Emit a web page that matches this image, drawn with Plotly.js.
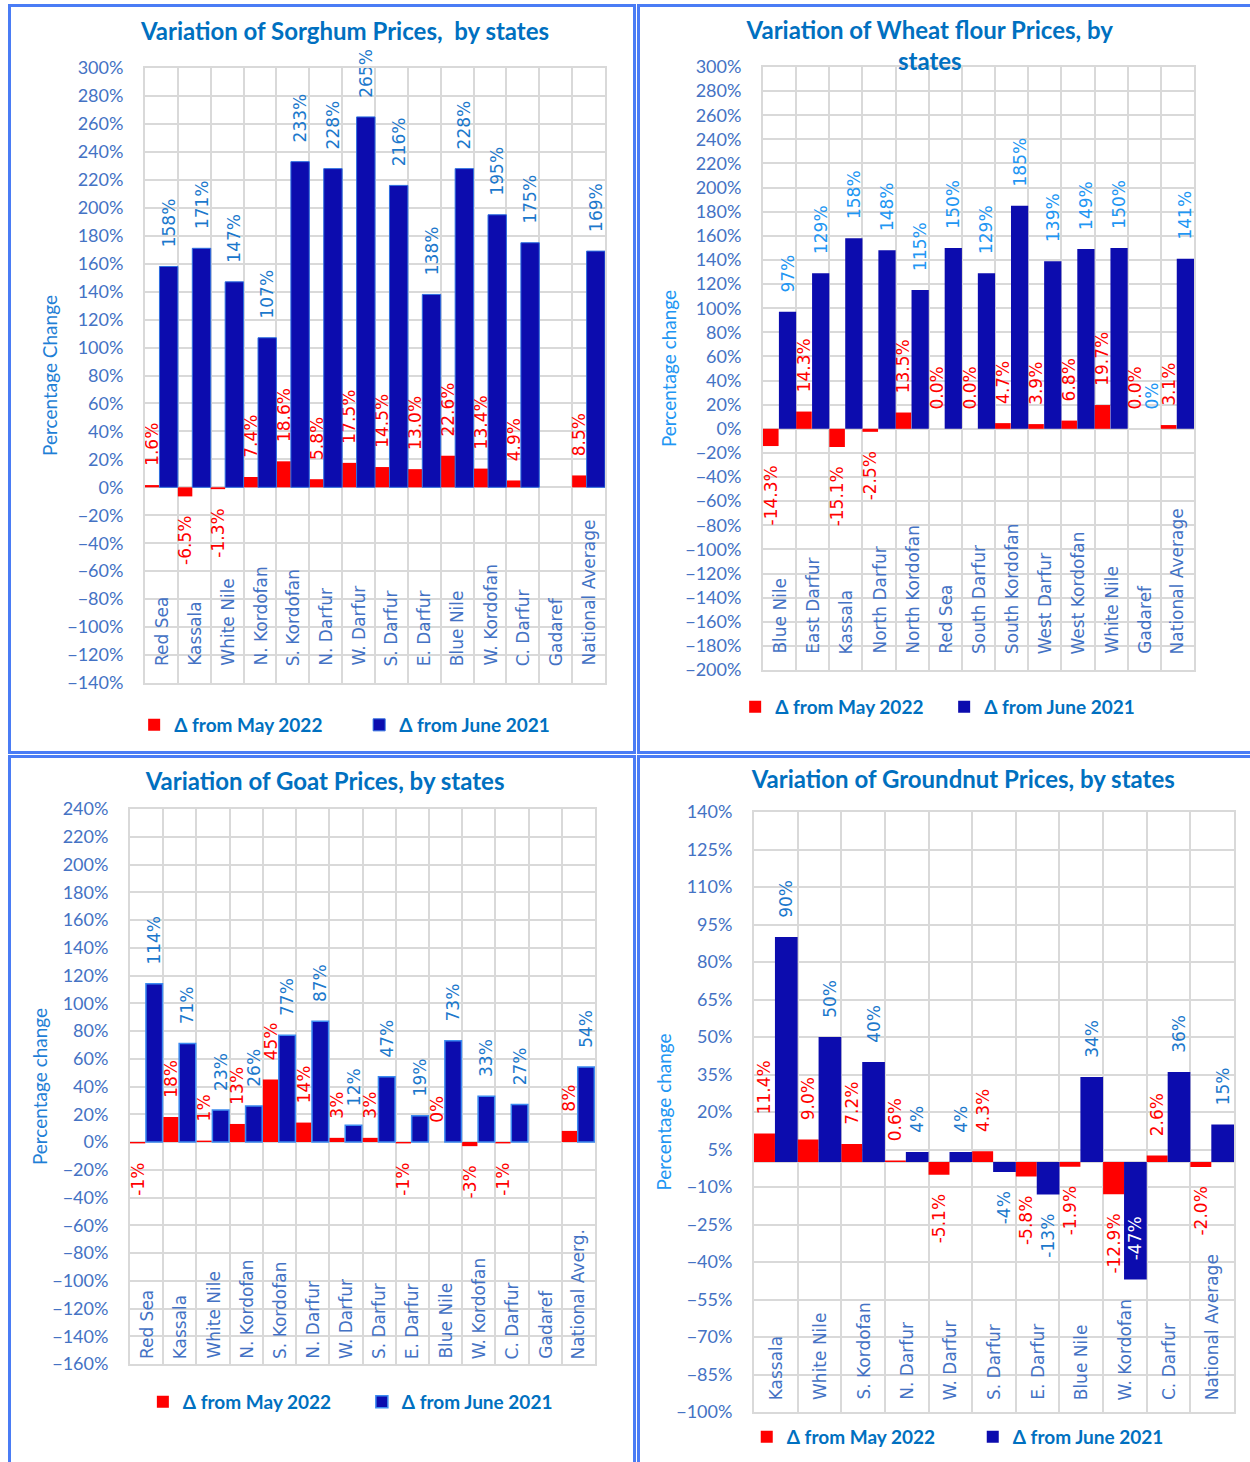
<!DOCTYPE html>
<html><head><meta charset="utf-8">
<script src="https://cdn.plot.ly/plotly-3.0.1.min.js"></script>
<style>
body{margin:0;width:1250px;height:1462px;overflow:hidden;background:#fff;position:relative}
.box{position:absolute;box-sizing:border-box;border:3px solid #4a7cf5}
.plot{position:absolute}
</style></head><body>
<div class="box" style="left:8px;top:4px;width:628px;height:750px"></div>
<div class="box" style="left:637px;top:4px;width:620px;height:750px"></div>
<div class="box" style="left:8px;top:755px;width:628px;height:720px"></div>
<div class="box" style="left:637px;top:755px;width:620px;height:720px"></div>
<div id="p1" class="plot" style="left:11px;top:8px;width:622px;height:743px"></div>
<div id="p2" class="plot" style="left:640px;top:8px;width:610px;height:743px"></div>
<div id="p3" class="plot" style="left:11px;top:758px;width:622px;height:704px"></div>
<div id="p4" class="plot" style="left:640px;top:758px;width:610px;height:704px"></div>
<script>
// ---------- DATA ----------
const sorghumStates = ['Red Sea','Kassala','White Nile','N. Kordofan','S. Kordofan','N. Darfur','W. Darfur','S. Darfur','E. Darfur','Blue Nile','W. Kordofan','C. Darfur','Gadaref','National Average'];
const sorghumMay22 = [1.6,-6.5,-1.3,7.4,18.6,5.8,17.5,14.5,13.0,22.6,13.4,4.9,null,8.5];
const sorghumJun21 = [158,171,147,107,233,228,265,216,138,228,195,175,null,169];

const wheatStates = ['Blue Nile','East Darfur','Kassala','North Darfur','North Kordofan','Red Sea','South Darfur','South Kordofan','West Darfur','West Kordofan','White Nile','Gadaref','National Average'];
const wheatMay22 = [-14.3,14.3,-15.1,-2.5,13.5,0.0,0.0,4.7,3.9,6.8,19.7,0.0,3.1];
const wheatJun21 = [97,129,158,148,115,150,129,185,139,149,150,0,141];

const goatStates = ['Red Sea','Kassala','White Nile','N. Kordofan','S. Kordofan','N. Darfur','W. Darfur','S. Darfur','E. Darfur','Blue Nile','W. Kordofan','C. Darfur','Gadaref','National Averg.'];
const goatMay22 = [-1,18,1,13,45,14,3,3,-1,0,-3,-1,null,8];
const goatJun21 = [114,71,23,26,77,87,12,47,19,73,33,27,null,54];

const groundnutStates = ['Kassala','White Nile','S. Kordofan','N. Darfur','W. Darfur','S. Darfur','E. Darfur','Blue Nile','W. Kordofan','C. Darfur','National Average'];
const groundnutMay22 = [11.4,9.0,7.2,0.6,-5.1,4.3,-5.8,-1.9,-12.9,2.6,-2.0];
const groundnutJun21 = [90,50,40,4,4,-4,-13,34,-47,36,15];

const legendNames = ['\u0394 from May 2022','\u0394 from June 2021'];

// ---------- STYLE ----------
const RED = '#FF0000', BLUE = '#0C0CAE';
const GRID = '#D9D9D9', TICKC = '#4472C4', TITLEC = '#0070C0';
const PAD = '\u00A0\u00A0\u00A0';
const LBL = 17;

function labels(vals, dec, insideFn) {
  return vals.map(v => {
    if (v === null) return '';
    const s = v.toFixed(dec) + '%';
    return (v >= 0 || insideFn(v)) ? PAD + s : s + PAD;
  });
}

function makeChart(id, c) {
  const n = c.cats.length;
  const isInside = v => v !== null && v < -30;
  const red = {
    type:'bar', name:legendNames[0], x:c.cats, y:c.red,
    offset:-0.5, width:c.redW, marker:{color:RED},
    text:labels(c.red, c.redDec, () => false), textposition:'outside', textangle:-90,
    textfont:{family:'DejaVu Sans', size:LBL, color:RED},
    cliponaxis:false, constraintext:'none', hoverinfo:'skip'
  };
  const blue = {
    type:'bar', name:legendNames[1], x:c.cats, y:c.blue,
    offset:c.blueOff, width:c.blueW,
    marker:{color:BLUE, line:{color:c.blueLine || BLUE, width:c.blueLineW || 0}},
    text:labels(c.blue, 0, isInside),
    textposition:c.blue.map(v => isInside(v) ? 'inside' : 'outside'),
    insidetextanchor:'end',
    textangle:-90,
    textfont:{family:'DejaVu Sans', size:LBL, color:c.labelColor},
    insidetextfont:{family:'DejaVu Sans', size:LBL, color:'#FFFFFF'},
    outsidetextfont:{family:'DejaVu Sans', size:LBL, color:c.labelColor},
    cliponaxis:false, constraintext:'none', hoverinfo:'skip'
  };
  const ann = c.cats.map(s => ({
    x:s, y:c.yr[0], xref:'x', yref:'y', text:s, showarrow:false,
    textangle:-90, yanchor:'bottom', xanchor:'center', yshift:c.catShift,
    font:{family:'DejaVu Sans', size:17, color:TICKC}
  }));
  const layout = {
    width:c.w, height:c.h, margin:c.m,
    paper_bgcolor:'#FFFFFF', plot_bgcolor:'#FFFFFF',
    barmode:'overlay', showlegend:true,
    title:{text:c.title, x:c.tx, y:c.ty, xref:'container', yref:'container',
      xanchor:'center', yanchor:'middle',
      font:{family:'Lato', size:24, color:TITLEC, weight:'bold'}},
    xaxis:{type:'category', range:[-0.5, n-0.5], tickson:'boundaries',
      showgrid:true, gridcolor:GRID, gridwidth:2, showticklabels:false, ticks:'',
      showline:true, mirror:true, linecolor:GRID, linewidth:2, zeroline:false, fixedrange:true},
    yaxis:{range:c.yr, tick0:c.yr[0], dtick:c.dtick, ticksuffix:'%',
      showgrid:true, gridcolor:GRID, gridwidth:2,
      zeroline:true, zerolinecolor:GRID, zerolinewidth:2,
      showline:true, mirror:true, linecolor:GRID, linewidth:2,
      ticks:'outside', ticklen:16, tickcolor:'rgba(0,0,0,0)',
      tickfont:{family:'Lato', size:18, color:TICKC},
      title:{text:c.ytitle, standoff:c.so, font:{family:'Lato', size:19, color:c.ytitleColor}},
      fixedrange:true},
    legend:{orientation:'h', xref:'container', yref:'container', x:c.lx, y:c.ly,
      xanchor:'left', yanchor:'middle', entrywidth:c.ew, entrywidthmode:'pixels',
      font:{family:'Lato', size:19, color:TITLEC, weight:'bold'}, bgcolor:'rgba(0,0,0,0)'},
    annotations:ann
  };
  Plotly.newPlot(id, [red, blue], layout, {displayModeBar:false, staticPlot:true});
}

makeChart('p1', {
  cats:sorghumStates, red:sorghumMay22, blue:sorghumJun21, redDec:1,
  w:622, h:743, m:{l:134, r:28, t:60, b:68},
  yr:[-140,300], dtick:20,
  title:'Variation of Sorghum Prices,\u00A0 by states', tx:0.537, ty:0.968,
  ytitle:'Percentage Change', ytitleColor:'#1F7FD6', labelColor:'#1B78CC', so:5,
  lx:0.198, ly:0.035, ew:180, catShift:15,
  redW:0.44, blueOff:-0.06, blueW:0.56, blueLine:'#2F6FE0', blueLineW:1
});
makeChart('p2', {
  cats:wheatStates, red:wheatMay22, blue:wheatJun21, redDec:1,
  w:610, h:743, m:{l:123, r:56, t:59, b:81},
  yr:[-200,300], dtick:20,
  title:'Variation of Wheat flour Prices, by<br>states', tx:0.475, ty:0.958,
  ytitle:'Percentage change', ytitleColor:'#2196F3', labelColor:'#2196F3', so:4,
  lx:0.156, ly:0.0592, ew:164, catShift:14,
  redW:0.47, blueOff:-0.02, blueW:0.52
});
makeChart('p3', {
  cats:goatStates, red:goatMay22, blue:goatJun21, redDec:0,
  w:622, h:704, m:{l:119, r:38, t:51, b:98},
  yr:[-160,240], dtick:20,
  title:'Variation of Goat Prices, by states', tx:0.505, ty:0.966,
  ytitle:'Percentage change', ytitleColor:'#1F7FD6', labelColor:'#1B78CC', so:0,
  lx:0.212, ly:0.0852, ew:174, catShift:3,
  redW:0.46, blueOff:-0.02, blueW:0.5, blueLine:'#3D8BF0', blueLineW:1.5
});
makeChart('p4', {
  cats:groundnutStates, red:groundnutMay22, blue:groundnutJun21, redDec:1,
  w:610, h:704, m:{l:114, r:16, t:54, b:50},
  yr:[-100,140], dtick:15,
  title:'Variation of Groundnut Prices, by states', tx:0.53, ty:0.970,
  ytitle:'Percentage change', ytitleColor:'#2196F3', labelColor:'#1B78CC', so:0,
  lx:0.175, ly:0.0355, ew:181, catShift:10,
  redW:0.48, blueOff:-0.02, blueW:0.52
});
</script>
</body></html>
